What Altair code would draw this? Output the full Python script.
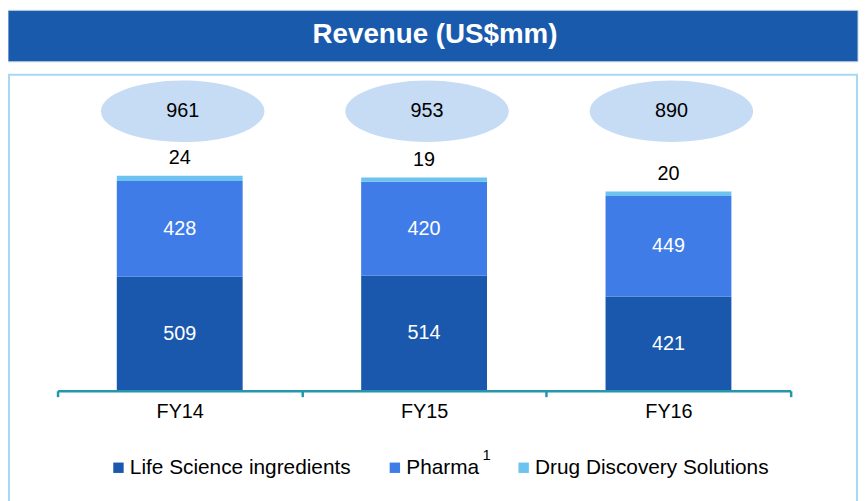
import altair as alt
import pandas as pd

# ---- data ----
years = ["FY14", "FY15", "FY16"]
series = ["Life Science ingredients", "Pharma", "Drug Discovery Solutions"]
life_science = [509, 514, 421]
pharma = [428, 420, 449]
drug_discovery = [24, 19, 20]
totals = [961, 953, 890]
colors = ["#1a58ad", "#3f7ce8", "#6cc3ef"]

rows = []
for i, yr in enumerate(years):
    for k, (s, vals) in enumerate(zip(series, [life_science, pharma, drug_discovery])):
        rows.append({"year": yr, "segment": s, "value": vals[i], "order": k})
df = pd.DataFrame(rows)
tot_df = pd.DataFrame({"year": years, "total": totals})
one = pd.DataFrame({"a": [0]})

FONT = "Liberation Sans"
W, H = 860, 493

x_scale = alt.Scale(domain=years, range=[50, 790], paddingInner=0, paddingOuter=0)
y_scale = alt.Scale(domain=[0, 961], range=[384, 167], nice=False, zero=True)
x_axis = alt.Axis(orient="bottom", offset=-109, domainColor="#2596ab", domainWidth=2.5,
                  tickColor="#2596ab", tickWidth=2.5, tickSize=6, tickBand="extent",
                  labelFont=FONT, labelFontSize=20, labelColor="black", labelPadding=5,
                  labelAngle=0, title=None, grid=False, zindex=1)
X = alt.X("year:N", scale=x_scale, axis=x_axis, title=None)

# ---- decoration ----
box = alt.Chart(one).mark_rect(fill="white", stroke="#a8d9f2", strokeWidth=2).encode(
    x=alt.value(1), x2=alt.value(857), y=alt.value(65), y2=alt.value(520))
banner = alt.Chart(one).mark_rect(fill="#1a5aad", stroke="#c9d7ea", strokeWidth=1).encode(
    x=alt.value(0), x2=alt.value(858), y=alt.value(0), y2=alt.value(52))
banner_text = alt.Chart(one).mark_text(
    text="Revenue (US$mm)", font=FONT, fontSize=28, fontWeight="bold", color="white",
    align="center", baseline="middle").encode(x=alt.value(431), y=alt.value(25))

# ---- bars ----
bars = alt.Chart(df).mark_bar(width=alt.RelativeBandSize(0.515)).encode(
    x=X,
    y=alt.Y("value:Q", scale=y_scale, stack="zero", axis=None, title=None),
    color=alt.Color("segment:N", scale=alt.Scale(domain=series, range=colors),
                    legend=alt.Legend(orient="none", legendX=101, legendY=451,
                                      direction="horizontal", columns=3, title=None,
                                      symbolType="square", symbolSize=110,
                                      symbolStrokeWidth=0, labelFont=FONT,
                                      labelFontSize=21, labelColor="black",
                                      labelOffset=1, columnPadding=34, padding=0,
                                      labelLimit=400)),
    order=alt.Order("order:Q"),
)

stacked = alt.Chart(df).transform_stack(
    stack="value", groupby=["year"], as_=["y0", "y1"],
    sort=[alt.SortField("order", order="ascending")]
).transform_calculate(
    mid="datum.order == 2 ? datum.y1 : (datum.y0 + datum.y1) / 2"
)

seg_labels = stacked.transform_filter("datum.order < 2").mark_text(
    font=FONT, fontSize=20, color="white", baseline="middle", align="center").encode(
    x=X, y=alt.Y("mid:Q", scale=y_scale, axis=None, title=None), text="value:Q")

top_labels = stacked.transform_filter("datum.order == 2").mark_text(
    font=FONT, fontSize=20, color="black", baseline="middle", align="center", dy=-18).encode(
    x=X, y=alt.Y("mid:Q", scale=y_scale, axis=None, title=None), text="value:Q")

# ---- total ellipses (shape slightly right of band centre, as in the source) ----
ellipse_path = ("M -0.964 0 C -0.964 -0.2077 -0.5163 -0.376 0.036 -0.376 "
                "C 0.5883 -0.376 1.036 -0.2077 1.036 0 "
                "C 1.036 0.2077 0.5883 0.376 0.036 0.376 "
                "C -0.5163 0.376 -0.964 0.2077 -0.964 0 Z")
ellipses = alt.Chart(tot_df).mark_point(shape=ellipse_path, filled=True, fill="#c6dcf4",
                                        size=165 ** 2, opacity=1, strokeWidth=0).encode(
    x=X, y=alt.value(102))
totals_text = alt.Chart(tot_df).mark_text(font=FONT, fontSize=20, color="black",
                                          baseline="middle", align="center", dx=3).encode(
    x=X, y=alt.value(102), text="total:Q")

sup = alt.Chart(one).mark_text(text="1", font=FONT, fontSize=15, color="black",
                               align="center", baseline="middle").encode(
    x=alt.value(483), y=alt.value(449))

chart = alt.layer(box, banner, banner_text, bars, seg_labels, top_labels,
                  ellipses, totals_text, sup).properties(
    width=W, height=H, autosize=alt.AutoSizeParams(type="none"), padding=0,
    background="white"
).configure_view(stroke=None)

chart.save("out.html", embed_options={"renderer": "svg", "actions": False})
